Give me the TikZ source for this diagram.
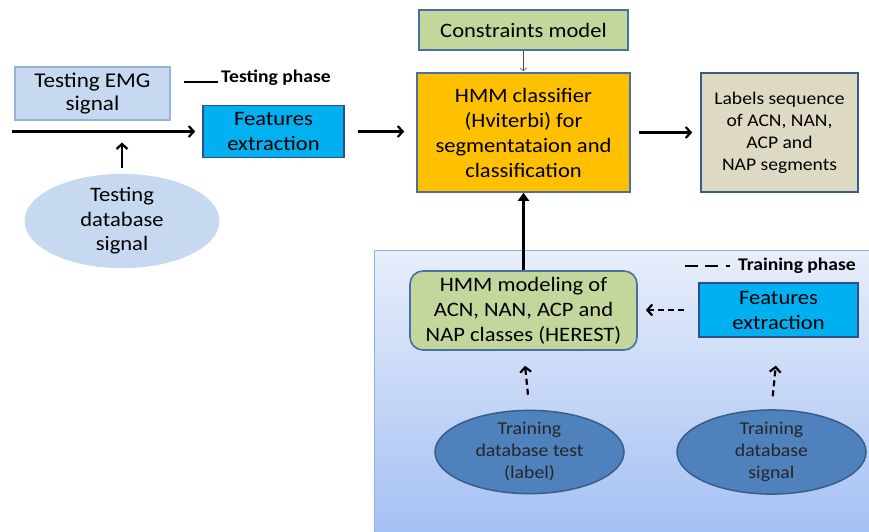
\documentclass[tikz,border=0pt]{standalone}
\usepackage{fontspec}
\setmainfont{Carlito}[FakeStretch=1.1]
\usetikzlibrary{arrows.meta,shapes.geometric}
\definecolor{tblue}{HTML}{C6D9F1}
\definecolor{tbluedge}{HTML}{95B3D7}
\definecolor{cyanbox}{HTML}{00B0F0}
\definecolor{navy}{HTML}{2E4F8E}
\definecolor{greenbox}{HTML}{C3D69B}
\definecolor{edgeblue}{HTML}{4A6FA5}
\definecolor{orangebox}{HTML}{FFC000}
\definecolor{tanbox}{HTML}{DDD9C3}
\definecolor{tanedge}{HTML}{385D8A}
\definecolor{darkell}{HTML}{4F81BD}
\definecolor{bgtop}{HTML}{E8EEFA}
\definecolor{bgbot}{HTML}{A4C0F3}
\definecolor{bgedge}{HTML}{8FB0E0}
\begin{document}
\begin{tikzpicture}[x=1pt,y=-1pt,
  box/.style={draw, line width=1.6pt, align=center, inner sep=0pt,
    font=\fontsize{20.5}{25}\selectfont},
  ell/.style={ellipse, align=center, inner sep=0pt,
    font=\fontsize{18}{22}\selectfont},
  arr/.style={line width=2.2pt, -{Straight Barb[length=5pt,width=11pt]}},
  darr/.style={line width=2.2pt, dash pattern=on 6pt off 4pt, -{Straight Barb[length=5pt,width=11pt]}},
  legend/.style={font=\fontsize{17.8}{20}\selectfont\bfseries, anchor=west, inner sep=0pt}
]
\useasboundingbox (0,0) rectangle (869,531);
% training background
\shade[top color=bgtop, bottom color=bgbot, draw=bgedge, line width=1pt]
  (374,250) rectangle (875,536);

% testing part
\node[box, fill=tblue, draw=tbluedge, minimum width=155pt, minimum height=53pt,
  font=\fontsize{21}{23}\selectfont] (emg) at (92.5,93.5) {Testing EMG\\signal};
\node[box, fill=cyanbox, draw=navy, minimum width=141pt, minimum height=52pt] (fe1) at (273.5,131.5) {Features\\extraction};
\node[ell, fill=tblue, minimum width=195pt, minimum height=73pt,
  font=\fontsize{20.5}{24.5}\selectfont] (tds) at (122,221) {Testing\\database\\signal};
\coordinate (tl1) at (184,82);
\coordinate (tl2) at (218,82);
\draw[line width=2pt] (tl1) -- (tl2);
\node[legend] (tp) at (221,78) {Testing phase};

% classifier part
\node[box, fill=greenbox, draw=edgeblue, minimum width=209pt, minimum height=40pt] (cons) at (523.5,30) {Constraints model};
\node[box, fill=orangebox, draw=edgeblue, minimum width=213pt, minimum height=119pt] (hmm) at (523.5,132.5) {HMM classifier\\(Hviterbi) for\\segmentataion and\\classification};
\node[box, fill=tanbox, draw=tanedge, minimum width=157pt, minimum height=119pt,
  font=\fontsize{17.8}{22}\selectfont] (lab) at (779.5,132.5) {Labels sequence\\of ACN, NAN,\\ACP and\\NAP segments};

% training part
\node[box, fill=greenbox, draw=edgeblue, rounded corners=13pt, minimum width=227pt, minimum height=79pt] (model) at (523.5,310.5) {HMM modeling of\\ACN, NAN, ACP and\\NAP classes (HEREST)};
\node[box, fill=cyanbox, draw=navy, minimum width=159pt, minimum height=54pt] (fe2) at (778.5,310) {Features\\extraction};
\node[ell, fill=darkell, draw=tanedge, line width=1.5pt, minimum width=189pt, minimum height=73pt, text=black!85] (tdt) at (529.5,452) {Training\\database test\\(label)};
\node[ell, fill=darkell, draw=tanedge, line width=1.5pt, minimum width=189pt, minimum height=73pt, text=black!85] (tds2) at (771.5,452) {Training\\database\\signal};
\coordinate (dl1) at (685,266);
\coordinate (dl2) at (730,266);
\draw[line width=2.6pt, dash pattern=on 13pt off 7pt on 13pt off 8pt on 4pt off 10pt] (dl1) -- (dl2);
\node[legend] (trp) at (738,266) {Training phase};

% connectors
\coordinate (in) at (12,131.5);
\coordinate (j) at (122,131.5);
\draw[arr] (in) -- ([xshift=-7pt]fe1.west);
\draw[arr] ([yshift=6pt]tds.north) -- ([yshift=-11pt]j);
\draw[arr, shorten <=13pt, shorten >=12pt] (fe1.east) -- (fe1.east -| hmm.west);
\draw[line width=0.6pt, draw=black!70, -{Straight Barb[length=3pt,width=7pt]}] (cons.south) -- ([yshift=1pt]hmm.north);
\draw[arr, shorten <=8pt, shorten >=8pt] (hmm.east) -- (lab.west);
\draw[line width=2.6pt, -{Triangle[length=8pt,width=11pt]}] (model.north) -- (hmm.south);
\draw[darr, shorten <=14pt, shorten >=8pt] (fe2.west) -- (fe2.west -| model.east);
\draw[darr, shorten <=15pt, shorten >=15pt] (tdt.north) -- (model.south);
\draw[darr, shorten <=13pt, shorten >=28pt] (tds2.north) -- (fe2.south);
\end{tikzpicture}
\end{document}
